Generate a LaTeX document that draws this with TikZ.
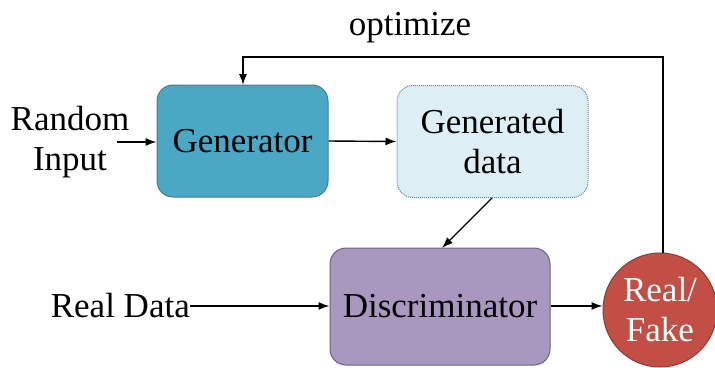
\documentclass[tikz,border=0pt]{standalone}
\usepackage{fontspec}
\setmainfont{Liberation Serif}
\usetikzlibrary{arrows.meta}
\definecolor{genfill}{HTML}{4AA8C4}
\definecolor{gendraw}{HTML}{4F7A88}
\definecolor{datafill}{HTML}{DDEEF5}
\definecolor{datadraw}{HTML}{5A8A9A}
\definecolor{discfill}{HTML}{A897BF}
\definecolor{discdraw}{HTML}{6E6082}
\definecolor{rffill}{HTML}{C24F45}
\definecolor{rfdraw}{HTML}{8E3A33}
\tikzset{
  txt/.style={font=\fontsize{35}{40}\selectfont, align=center, inner sep=0pt},
  blockbox/.style={txt, rounded corners=16pt, line width=1pt, minimum height=112pt},
  link/.style={line width=1.4pt, -{Latex[length=11pt,width=8pt]}},
}
\begin{document}
\begin{tikzpicture}[x=1pt,y=-1pt]
  \useasboundingbox (0,0) rectangle (715,367);
  % main blocks
  \node[blockbox, fill=genfill, draw=gendraw, minimum width=171pt] (gen) at (242.5,141) {Generator};
  \node[blockbox, fill=datafill, draw=datadraw, densely dotted, minimum width=191pt] (data) at (492.5,141.5) {Generated\\data};
  \node[blockbox, fill=discfill, draw=discdraw, minimum width=220pt, minimum height=117pt] (disc) at (440,306.5) {Discriminator};
  \node[txt, circle, fill=rffill, draw=rfdraw, line width=1pt, minimum size=114pt, text=white] (rf) at (660,310) {Real/\\Fake};
  % inputs
  \node[txt] (rand) at (70,142) {Random\\Input};
  \node[txt, anchor=east] (real) at (190,306) {Real Data};
  \coordinate (randout) at (117,142);
  \coordinate (loop) at (663,57);
  % connectors
  \draw[link] (randout) -- (gen.west |- randout);
  \draw[link] (gen.east) -- (data.west);
  \draw[link] (492,198) -- (442,248);
  \draw[link] (real.east) -- (disc.west |- real.east);
  \draw[link] (disc.east |- 0,306) -- (rf.west |- 0,306);
  \draw[link] (rf.north -| loop) -- (loop) -- (243,57) -- (243,85);
  \node[txt] (opt) at (410,28) {optimize};
\end{tikzpicture}
\end{document}
